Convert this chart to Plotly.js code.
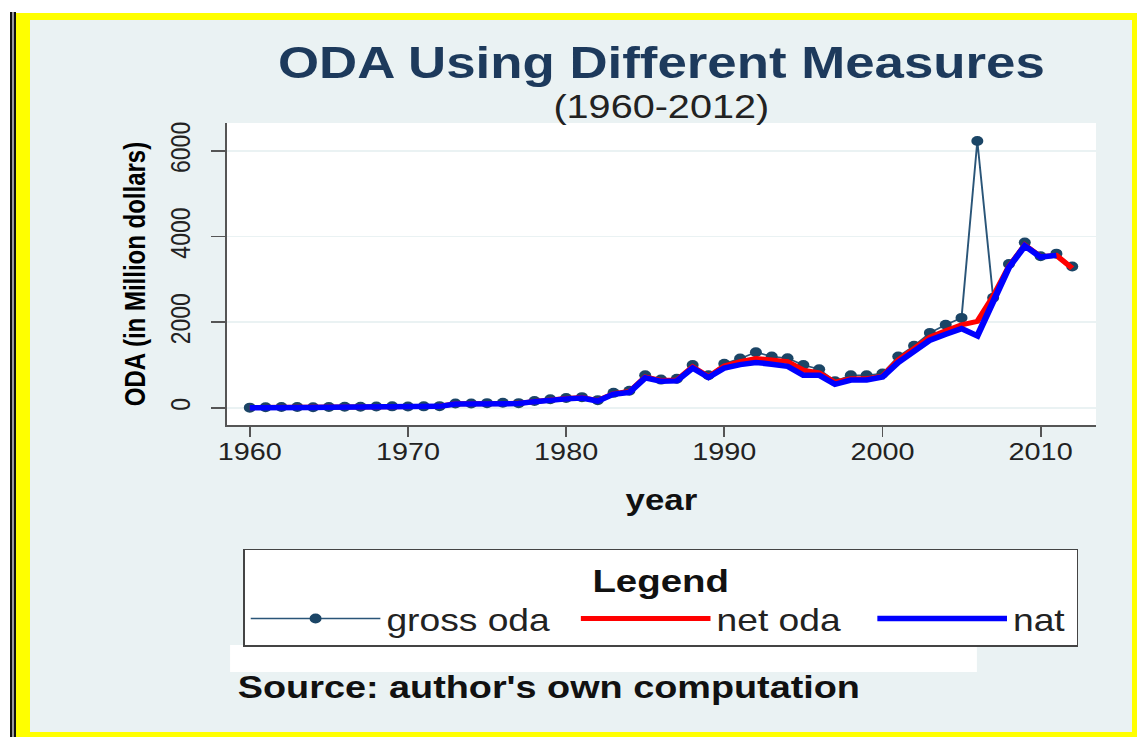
<!DOCTYPE html>
<html>
<head>
<meta charset="utf-8">
<script src="https://cdn.plot.ly/plotly-3.0.1.min.js"></script>
<style>
  html, body { margin: 0; padding: 0; background: #ffffff; width: 1137px; height: 737px; overflow: hidden; }
  #l1 { position: absolute; left: 10px; top: 12px; width: 2px; height: 725px; background: #111; }
  #l2 { position: absolute; left: 12px; top: 12px; width: 2px; height: 725px; background: #9a9a9a; }
  #l3 { position: absolute; left: 14px; top: 12px; width: 2px; height: 725px; background: #111; }
  #frame { position: absolute; left: 16px; top: 13px; width: 1121px; height: 724px; background: #FFFF00; }
  #panel { position: absolute; left: 30px; top: 20px; width: 1102px; height: 712px; background: #EAF2F3; overflow: hidden; }
  #chart { position: absolute; left: 0; top: 0; width: 918px; height: 712px; transform: scaleX(1.2004); transform-origin: 0 0; }
</style>
</head>
<body>
<div id="l1"></div><div id="l2"></div><div id="l3"></div>
<div id="frame"></div>
<div id="panel"><div id="chart"></div></div>
<script>
// ---- data ----
const years = [1960,1961,1962,1963,1964,1965,1966,1967,1968,1969,
               1970,1971,1972,1973,1974,1975,1976,1977,1978,1979,
               1980,1981,1982,1983,1984,1985,1986,1987,1988,1989,
               1990,1991,1992,1993,1994,1995,1996,1997,1998,1999,
               2000,2001,2002,2003,2004,2005,2006,2007,2008,2009,
               2010,2011,2012];

const grossOda = [5,15,20,20,15,20,25,25,30,35,
                  30,35,40,100,100,110,120,110,160,200,
                  230,250,180,350,400,760,660,680,1000,760,
                  1030,1150,1300,1200,1160,1000,900,620,760,760,
                  800,1200,1450,1750,1940,2100,6230,2570,3360,3860,
                  3540,3600,3300];

const netOda = [5,12,18,18,12,18,22,22,28,32,
                28,32,38,95,95,105,115,105,150,190,
                220,240,170,330,380,720,640,650,960,730,
                980,1080,1150,1120,1080,880,820,600,680,680,
                740,1120,1380,1650,1800,1940,2020,2600,3300,3800,
                3530,3560,3260];

const nat = [0,10,15,15,10,15,20,20,25,30,
             25,30,35,90,90,100,110,100,145,185,
             210,230,160,320,360,700,620,630,930,710,
             930,1010,1060,1020,970,760,760,550,650,650,
             720,1060,1300,1580,1720,1850,1680,2520,3280,3780,
             3520,3560,null];

const xTickVals = [1960,1970,1980,1990,2000,2010];
const yTickVals = [0,2000,4000,6000];
const seriesNames = ['gross oda','net oda','nat'];

// ---- chart ----
const FONT = 'Liberation Sans, Arial, Helvetica, sans-serif';

const traces = [
  { x: years, y: grossOda, name: seriesNames[0], type: 'scatter', mode: 'lines+markers',
    line: { color: '#2a5578', width: 1.6 },
    marker: { color: '#1b4566', size: 10, symbol: 'circle' },
    legendwidth: 152 },
  { x: years, y: netOda, name: seriesNames[1], type: 'scatter', mode: 'lines',
    line: { color: '#FF0000', width: 5 },
    legendwidth: 124 },
  { x: years, y: nat, name: seriesNames[2], type: 'scatter', mode: 'lines',
    line: { color: '#0000FF', width: 5.5 },
    legendwidth: 48 }
];

const layout = {
  width: 918, height: 712,
  paper_bgcolor: '#EAF2F3',
  plot_bgcolor: '#FFFFFF',
  margin: { l: 164, r: 30, t: 103, b: 307, pad: 0 },
  font: { family: FONT, color: '#111' },
  showlegend: true,
  title: {
    text: '<b>ODA Using Different Measures</b>',
    font: { family: FONT, size: 44, color: '#1d3a5c' },
    x: 0.5, xref: 'paper', xanchor: 'center',
    y: 0.9403, yref: 'container', yanchor: 'middle'
  },
  xaxis: {
    range: [1958.55, 2013.5],
    tickmode: 'array', tickvals: xTickVals, ticktext: xTickVals.map(String),
    ticks: 'outside', ticklen: 10, tickwidth: 1.5, tickcolor: '#555',
    ticklabelstandoff: -5,
    showline: true, linecolor: '#555', linewidth: 1.5, mirror: false,
    showgrid: false, zeroline: false,
    tickfont: { family: FONT, size: 24, color: '#222' },
    title: { text: '<b>year</b>', font: { family: FONT, size: 29, color: '#111' }, standoff: 25 }
  },
  yaxis: {
    range: [-400, 6650],
    tickmode: 'array', tickvals: yTickVals, ticktext: yTickVals.map(String),
    tickangle: -90,
    ticks: 'outside', ticklen: 12, tickwidth: 1.5, tickcolor: '#555',
    ticklabelstandoff: 8,
    showline: true, linecolor: '#555', linewidth: 1.5, mirror: false,
    showgrid: true, gridcolor: '#EAF2F3', gridwidth: 1.5, zeroline: false,
    tickfont: { family: FONT, size: 23, color: '#222' },
    title: { text: '<b>ODA (in Million dollars)</b>', font: { family: FONT, size: 24, color: '#000' }, standoff: 9 }
  },
  legend: {
    orientation: 'h',
    x: 0.0185, xanchor: 'left',
    y: -0.41, yanchor: 'top',
    bgcolor: '#FFFFFF', bordercolor: '#444', borderwidth: 1.5,
    font: { family: FONT, size: 31, color: '#222' },
    title: { text: '<b>Legend</b>', side: 'top center', font: { family: FONT, size: 32, color: '#111' } },
    itemwidth: 108,
    traceorder: 'normal'
  },
  shapes: [
    { type: 'rect', xref: 'paper', yref: 'paper', x0: 0.0037, x1: 0.863, y0: -0.818, y1: -0.7285,
      fillcolor: '#FFFFFF', line: { width: 0 }, layer: 'below' }
  ],
  annotations: [
    { text: '(1960-2012)', xref: 'paper', yref: 'paper', x: 0.5, y: 1.053,
      xanchor: 'center', yanchor: 'middle', showarrow: false,
      font: { family: FONT, size: 33, color: '#222' } },
    { text: "<b>Source: author's own computation</b>", xref: 'paper', yref: 'paper', x: 0.0094, y: -0.8675,
      xanchor: 'left', yanchor: 'middle', showarrow: false,
      font: { family: FONT, size: 31.5, color: '#111' } }
  ]
};

Plotly.newPlot('chart', traces, layout, { staticPlot: true, displayModeBar: false });
</script>
</body>
</html>
